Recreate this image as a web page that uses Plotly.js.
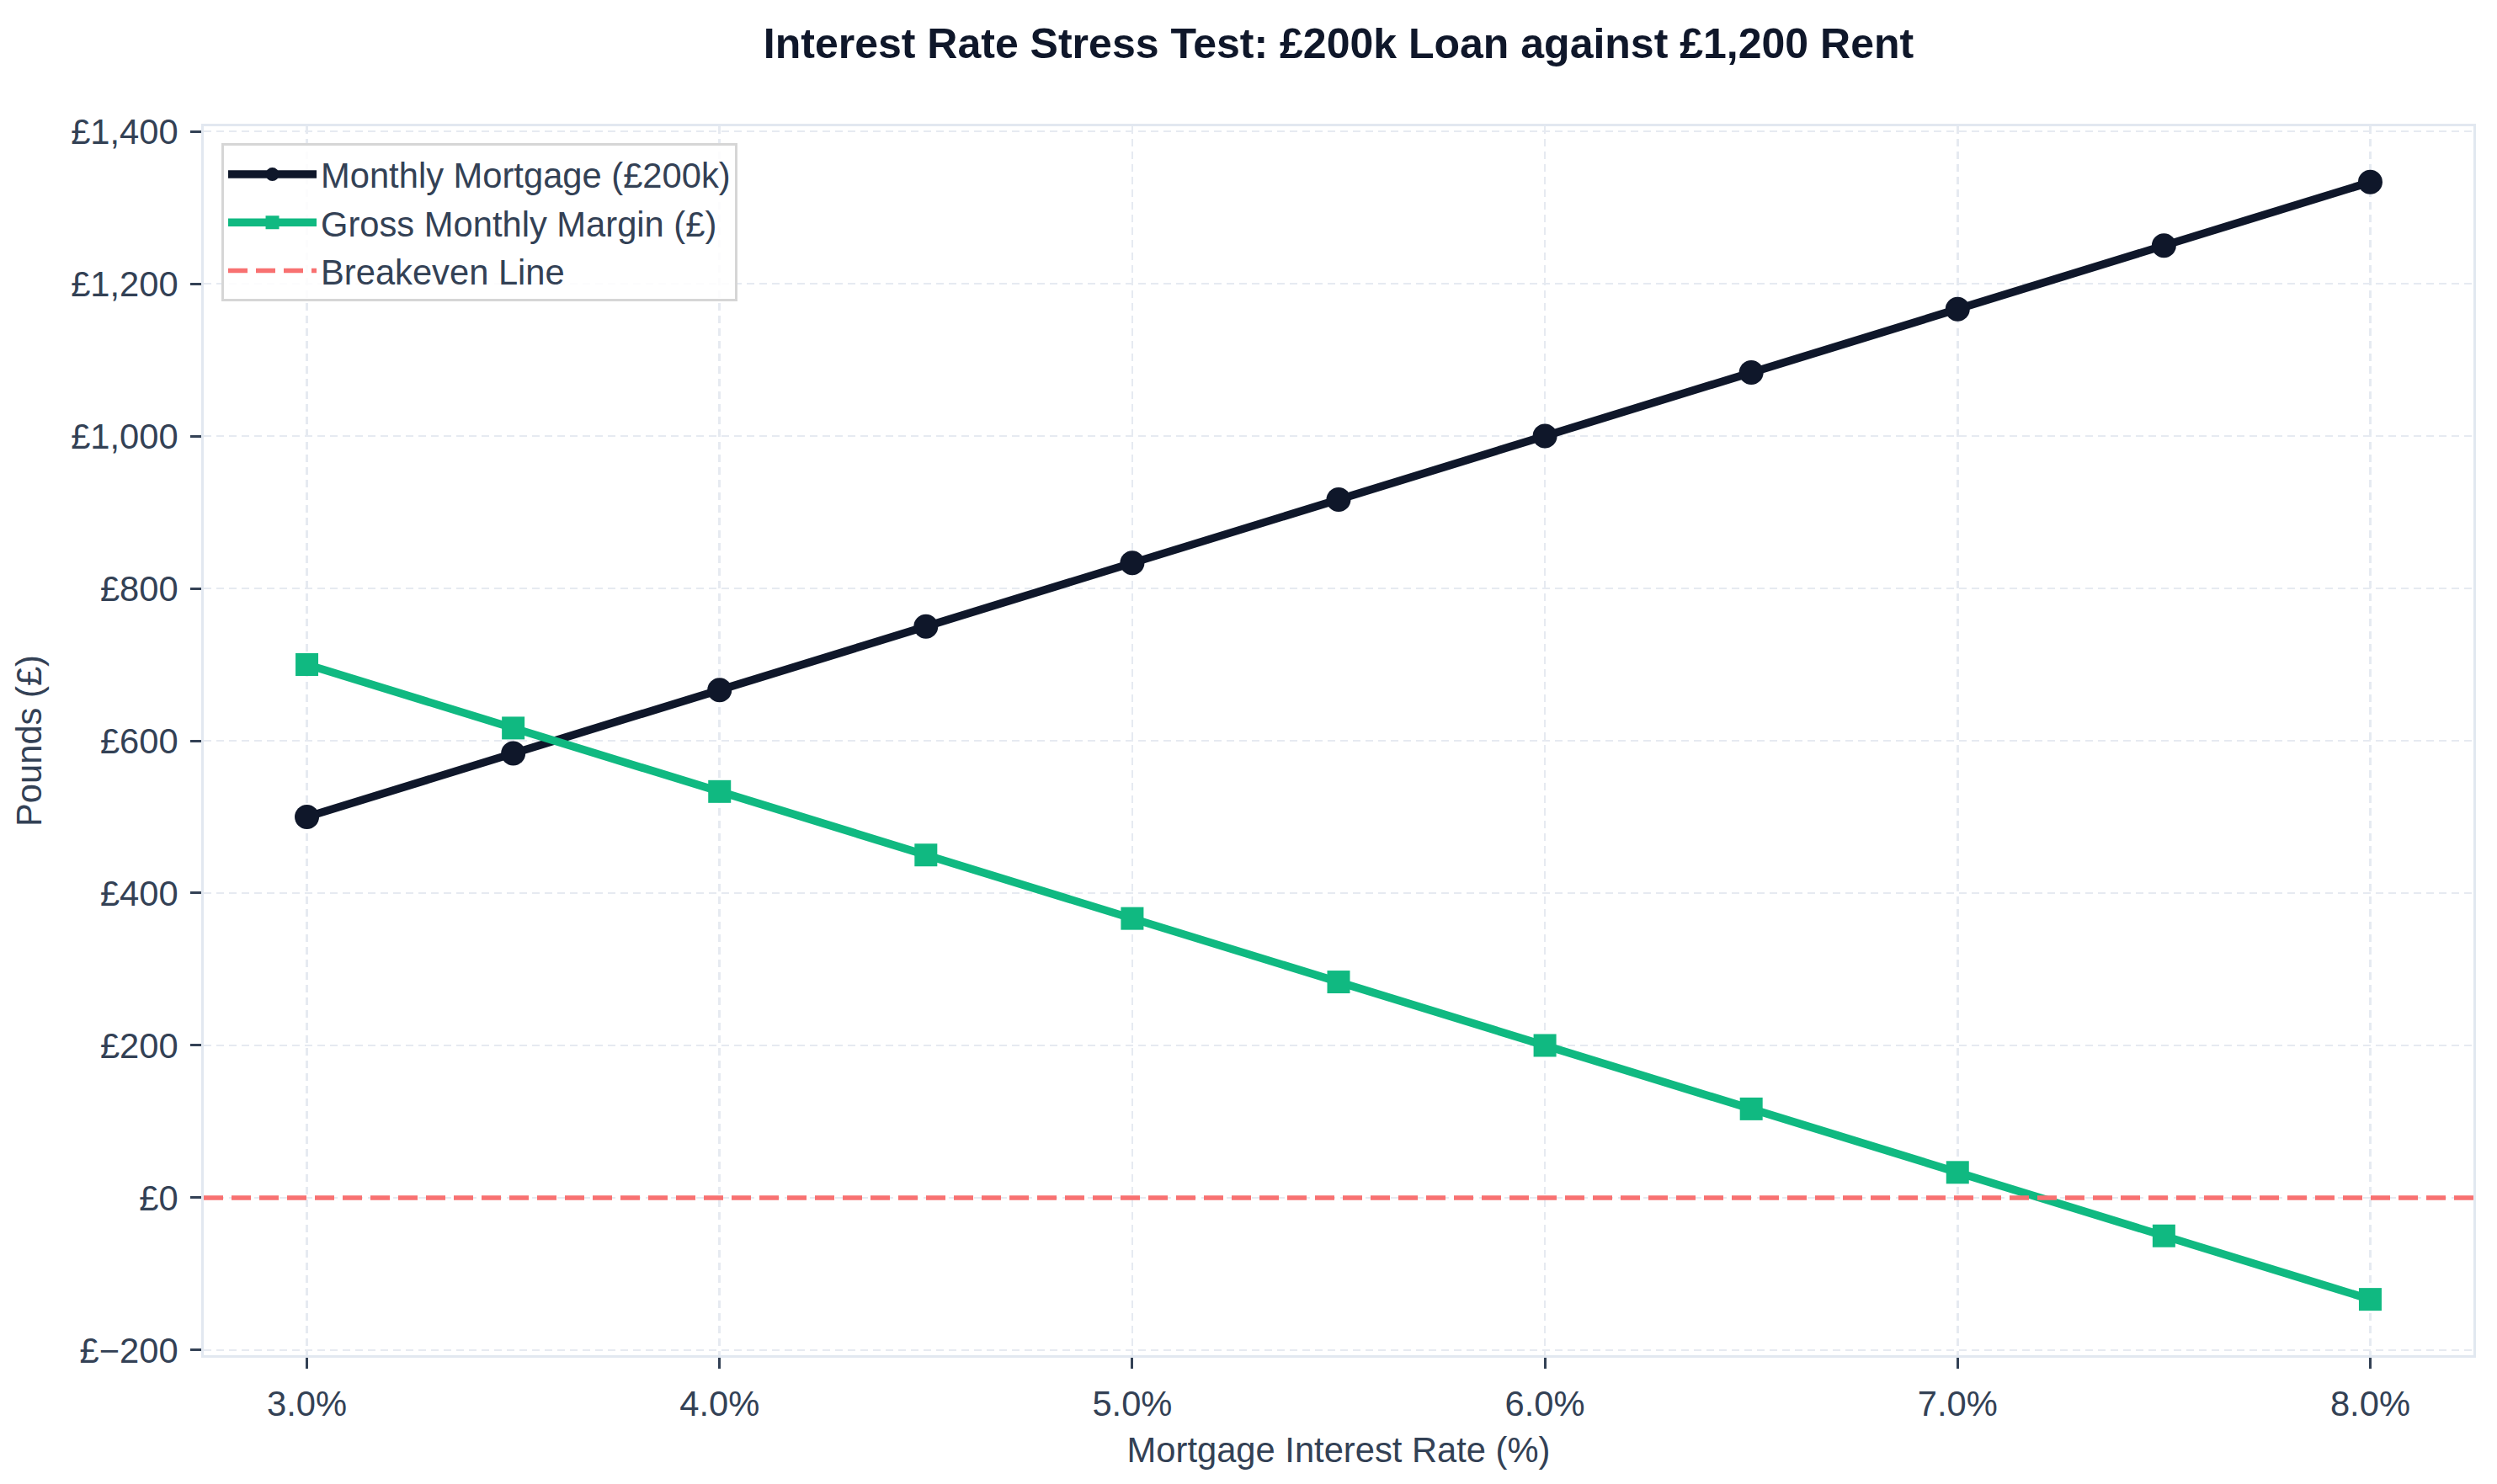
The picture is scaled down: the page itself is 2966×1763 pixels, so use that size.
<!DOCTYPE html>
<html>
<head>
<meta charset="utf-8">
<script src="https://cdn.plot.ly/plotly-3.0.1.min.js"></script>
<style>
  html, body { margin: 0; padding: 0; background: #ffffff; }
  #chart { width: 2966px; height: 1763px; }
</style>
</head>
<body>
<div id="chart"></div>
<script>
// ---- Data ----
const interestRates = [3.0, 3.5, 4.0, 4.5, 5.0, 5.5, 6.0, 6.5, 7.0, 7.5, 8.0];
const monthlyMortgage = [500.00, 583.33, 666.67, 750.00, 833.33, 916.67, 1000.00, 1083.33, 1166.67, 1250.00, 1333.33];
const grossMargin = [700.00, 616.67, 533.33, 450.00, 366.67, 283.33, 200.00, 116.67, 33.33, -50.00, -133.33];
const breakevenLevel = [0];

const xTickVals = [3, 4, 5, 6, 7, 8];
const xTickText = ['3.0%', '4.0%', '5.0%', '6.0%', '7.0%', '8.0%'];
const yTickVals = [-200, 0, 200, 400, 600, 800, 1000, 1200, 1400];
const yTickText = ['£\u2212200', '£0', '£200', '£400', '£600', '£800', '£1,000', '£1,200', '£1,400'];

const seriesNames = ['Monthly Mortgage (£200k)', 'Gross Monthly Margin (£)', 'Breakeven Line'];

// ---- Styles ----
const FONT = '"Liberation Sans", Arial, "DejaVu Sans", sans-serif';
const TEXT = '#334155';
const DARK = '#0f172a';
const GREEN = '#10b981';
const RED = '#f87171';
const GRID = '#e6eaf1';
const SPINE = '#e2e8f0';

const traces = [
  {
    x: interestRates, y: monthlyMortgage, name: seriesNames[0],
    type: 'scatter', mode: 'lines+markers',
    line: { color: DARK, width: 9.5 },
    marker: { color: DARK, size: 29, symbol: 'circle' }
  },
  {
    x: interestRates, y: grossMargin, name: seriesNames[1],
    type: 'scatter', mode: 'lines+markers',
    line: { color: GREEN, width: 9.5 },
    marker: { color: GREEN, size: 27, symbol: 'square' }
  }
];

const axisCommon = {
  showline: true, linecolor: SPINE, linewidth: 3, mirror: true,
  ticks: 'outside', ticklen: 13, tickwidth: 3, tickcolor: TEXT,
  showgrid: true, gridcolor: GRID, gridwidth: 2.5, griddash: '9px,6px',
  zeroline: false,
  tickfont: { family: FONT, size: 41.7, color: TEXT },
  tickmode: 'array'
};

const layout = {
  width: 2966, height: 1763,
  paper_bgcolor: '#ffffff', plot_bgcolor: '#ffffff',
  margin: { l: 242, r: 28, t: 150, b: 153, pad: 0 },
  font: { family: FONT, color: TEXT },
  title: {
    text: 'Interest Rate Stress Test: £200k Loan against £1,200 Rent',
    font: { family: FONT, size: 50, color: DARK, weight: 'bold' },
    x: 0.5, xref: 'paper', xanchor: 'center',
    y: 1 - 51 / 1763, yref: 'container', yanchor: 'middle'
  },
  xaxis: Object.assign({}, axisCommon, {
    range: [2.75, 8.25],
    tickvals: xTickVals, ticktext: xTickText,
    ticklabelstandoff: 6,
    title: { text: 'Mortgage Interest Rate (%)', standoff: 18,
             font: { family: FONT, size: 41.7, color: TEXT } },
    automargin: false
  }),
  yaxis: Object.assign({}, axisCommon, {
    range: [-206.67, 1406.67],
    tickvals: yTickVals, ticktext: yTickText,
    ticklabelstandoff: 6,
    title: { text: 'Pounds (£)', standoff: 22,
             font: { family: FONT, size: 41.7, color: TEXT } },
    automargin: false
  }),
  showlegend: true,
  legend: {
    x: 0.0078, y: 0.986, xanchor: 'left', yanchor: 'top',
    bgcolor: 'rgba(255,255,255,0.85)', bordercolor: '#d6d6d6', borderwidth: 3,
    font: { family: FONT, size: 41.7, color: TEXT },
    itemwidth: 105, tracegroupgap: 0
  },
  shapes: [
    {
      type: 'line', xref: 'paper', yref: 'y',
      x0: 0, x1: 1, y0: breakevenLevel[0], y1: breakevenLevel[0],
      line: { color: RED, width: 5.5, dash: '23px,10px' },
      layer: 'above',
      showlegend: true, name: seriesNames[2]
    }
  ]
};

Plotly.newPlot('chart', traces, layout, { displayModeBar: false, staticPlot: true });
</script>
</body>
</html>
